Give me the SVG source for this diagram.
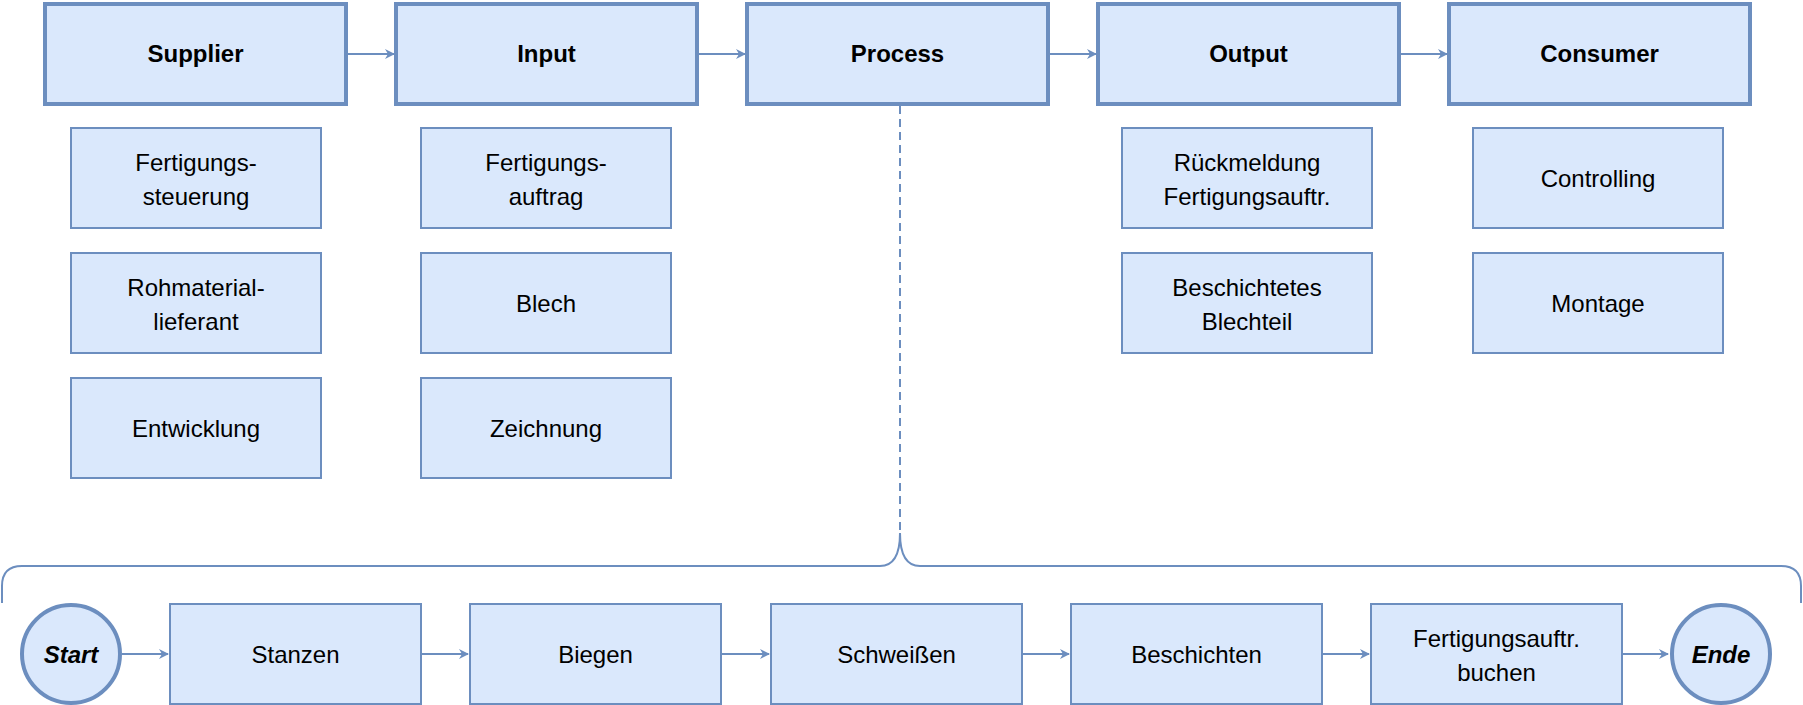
<svg xmlns="http://www.w3.org/2000/svg" width="1803" height="705" viewBox="0 0 1803 705">
<style>
.main{fill:#dae8fc;stroke:#6c8ebf;stroke-width:4}
.sub{fill:#dae8fc;stroke:#6c8ebf;stroke-width:2}
.t{font-family:"Liberation Sans",Arial,sans-serif;font-size:24px;fill:#000;text-anchor:middle}
.b{font-weight:bold}
.c{stroke:#6c8ebf;stroke-width:2;fill:none}
</style>
<defs>
<marker id="ar" markerWidth="10" markerHeight="10" refX="9" refY="5" orient="auto" markerUnits="userSpaceOnUse" viewBox="0 0 10 10">
<path d="M0,0 L10,5 L0,10 L3,5 Z" fill="#6c8ebf"/>
</marker>
</defs>
<rect width="1803" height="705" fill="#fff"/>
<g id="connectors">
<path class="c" d="M346,54 H394" marker-end="url(#ar)" transform="scale(1)"/>
<path class="c" d="M697,54 H745" marker-end="url(#ar)"/>
<path class="c" d="M1048,54 H1096" marker-end="url(#ar)"/>
<path class="c" d="M1399,54 H1447" marker-end="url(#ar)"/>
<path class="c" d="M122,654 H168" marker-end="url(#ar)"/>
<path class="c" d="M421,654 H468" marker-end="url(#ar)"/>
<path class="c" d="M721,654 H769" marker-end="url(#ar)"/>
<path class="c" d="M1022,654 H1069" marker-end="url(#ar)"/>
<path class="c" d="M1322,654 H1369" marker-end="url(#ar)"/>
<path class="c" d="M1622,654 H1668" marker-end="url(#ar)"/>
<path class="c" d="M900,106 V533" stroke-dasharray="8,5"/>
<path class="c" d="M2,603 V586 Q2,566 22,566 H880 Q900,566 900,533 Q900,566 920,566 H1781 Q1801,566 1801,586 V603"/>
</g>
<g id="supplier"><rect class="main" x="45" y="4" width="301" height="100"/><text class="t b" x="195.5" y="62">Supplier</text></g>
<g id="input"><rect class="main" x="396" y="4" width="301" height="100"/><text class="t b" x="546.5" y="62">Input</text></g>
<g id="process"><rect class="main" x="747" y="4" width="301" height="100"/><text class="t b" x="897.5" y="62">Process</text></g>
<g id="output"><rect class="main" x="1098" y="4" width="301" height="100"/><text class="t b" x="1248.5" y="62">Output</text></g>
<g id="consumer"><rect class="main" x="1449" y="4" width="301" height="100"/><text class="t b" x="1599.5" y="62">Consumer</text></g>

<g id="s1"><rect class="sub" x="71" y="128" width="250" height="100"/><text class="t" x="196" y="171">Fertigungs-</text><text class="t" x="196" y="205">steuerung</text></g>
<g id="s2"><rect class="sub" x="71" y="253" width="250" height="100"/><text class="t" x="196" y="296">Rohmaterial-</text><text class="t" x="196" y="330">lieferant</text></g>
<g id="s3"><rect class="sub" x="71" y="378" width="250" height="100"/><text class="t" x="196" y="437">Entwicklung</text></g>
<g id="i1"><rect class="sub" x="421" y="128" width="250" height="100"/><text class="t" x="546" y="171">Fertigungs-</text><text class="t" x="546" y="205">auftrag</text></g>
<g id="i2"><rect class="sub" x="421" y="253" width="250" height="100"/><text class="t" x="546" y="312">Blech</text></g>
<g id="i3"><rect class="sub" x="421" y="378" width="250" height="100"/><text class="t" x="546" y="437">Zeichnung</text></g>
<g id="o1"><rect class="sub" x="1122" y="128" width="250" height="100"/><text class="t" x="1247" y="171">Rückmeldung</text><text class="t" x="1247" y="205">Fertigungsauftr.</text></g>
<g id="o2"><rect class="sub" x="1122" y="253" width="250" height="100"/><text class="t" x="1247" y="296">Beschichtetes</text><text class="t" x="1247" y="330">Blechteil</text></g>
<g id="c1"><rect class="sub" x="1473" y="128" width="250" height="100"/><text class="t" x="1598" y="187">Controlling</text></g>
<g id="c2"><rect class="sub" x="1473" y="253" width="250" height="100"/><text class="t" x="1598" y="312">Montage</text></g>

<g id="start"><circle class="main" cx="71" cy="654" r="49"/><text class="t b" x="71" y="663" font-style="italic">Start</text></g>
<g id="stanzen"><rect class="sub" x="170" y="604" width="251" height="100"/><text class="t" x="295.5" y="663">Stanzen</text></g>
<g id="biegen"><rect class="sub" x="470" y="604" width="251" height="100"/><text class="t" x="595.5" y="663">Biegen</text></g>
<g id="schweissen"><rect class="sub" x="771" y="604" width="251" height="100"/><text class="t" x="896.5" y="663">Schweißen</text></g>
<g id="beschichten"><rect class="sub" x="1071" y="604" width="251" height="100"/><text class="t" x="1196.5" y="663">Beschichten</text></g>
<g id="buchen"><rect class="sub" x="1371" y="604" width="251" height="100"/><text class="t" x="1496.5" y="647">Fertigungsauftr.</text><text class="t" x="1496.5" y="681">buchen</text></g>
<g id="ende"><circle class="main" cx="1721" cy="654" r="49"/><text class="t b" x="1721" y="663" font-style="italic">Ende</text></g>
</svg>
